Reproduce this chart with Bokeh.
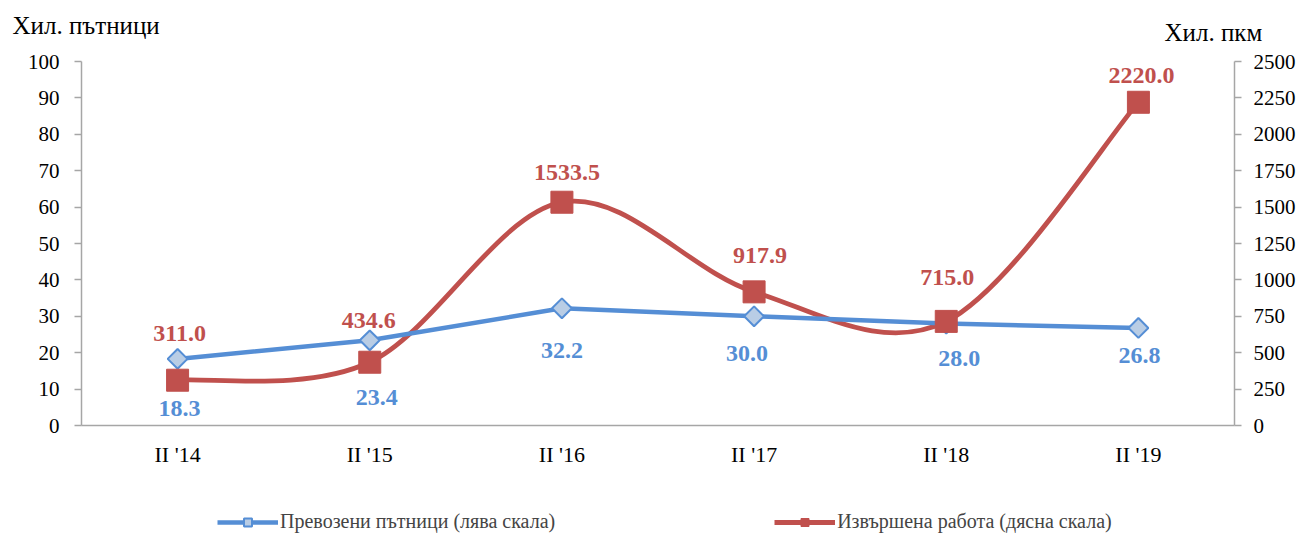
import numpy as np
from bokeh.plotting import figure
from bokeh.models import Range1d, LinearAxis, FixedTicker, Legend, LegendItem, Label
from bokeh.core.properties import value
from bokeh.embed import file_html
from bokeh.resources import INLINE

# ---------------- data ----------------
categories = ["II '14", "II '15", "II '16", "II '17", "II '18", "II '19"]
passengers = [18.3, 23.4, 32.2, 30.0, 28.0, 26.8]          # left scale
work = [311.0, 434.6, 1533.5, 917.9, 715.0, 2220.0]         # right scale
left_ticks = [0, 10, 20, 30, 40, 50, 60, 70, 80, 90, 100]
right_ticks = [0, 250, 500, 750, 1000, 1250, 1500, 1750, 2000, 2250, 2500]
left_title = "Хил. пътници"
right_title = "Хил. пкм"
passengers_name = "Превозени пътници (лява скала)"
work_name = "Извършена работа (дясна скала)"

# ---------------- styles / layout ----------------
W, H = 1312, 533
AX_L, AX_R, AX_TOP, AX_BOT = 81, 1234, 61, 425     # pixel box of the axes
BLUE = "#558ED5"
BLUE_FILL = "#B9CDE5"
RED = "#C0504D"
AXIS = "#A6A6A6"
FONT = "Liberation Serif"
blue_label_dx = [2, 7, 0, -7, 13, 1]
blue_label_dy = [50, 57, 42, 37, 35, 28]
red_label_dx = [2, -1, 5, 6, 1, 3]
red_label_dy = [-47, -42, -30, -36, -44, -27]

n = len(categories)
x = np.arange(n) + 0.5

# ranges calibrated so the frame covers the whole canvas and the axes sit in the box
pxx = (AX_R - AX_L) / n
xr = Range1d(-AX_L / pxx, n + (W - AX_R) / pxx)
lmax = left_ticks[-1]
rmax = right_ticks[-1]
pxy = (AX_BOT - AX_TOP) / lmax
yl = Range1d(-(H - AX_BOT) / pxy, lmax + AX_TOP / pxy)
k = rmax / lmax
yr = Range1d(yl.start * k, yl.end * k)

p = figure(width=W, height=H, x_range=xr, y_range=yl,
           output_backend="svg", toolbar_location=None,
           min_border=0, min_border_left=0, min_border_right=0,
           min_border_top=0, min_border_bottom=0)
p.extra_y_ranges = {"right": yr}
p.xgrid.visible = False
p.ygrid.visible = False
p.outline_line_color = None
p.background_fill_color = "white"
p.border_fill_color = "white"

# x axis
xa = p.xaxis[0]
xa.fixed_location = 0
xa.bounds = (0, n)
xa.ticker = FixedTicker(ticks=list(x))
xa.major_label_overrides = {float(xi): c for xi, c in zip(x, categories)}
xa.major_tick_out = 0
xa.major_tick_in = 0
xa.minor_tick_out = 0
xa.minor_tick_in = 0
xa.axis_line_color = AXIS
xa.axis_line_width = 1.5
xa.major_label_standoff = 16
xa.major_label_text_font = FONT
xa.major_label_text_font_size = "22px"
xa.major_label_text_color = "#000000"

def style_y(ax):
    ax.major_tick_out = 7
    ax.major_tick_in = 0
    ax.minor_tick_out = 0
    ax.minor_tick_in = 0
    ax.axis_line_color = AXIS
    ax.axis_line_width = 1.5
    ax.major_tick_line_color = AXIS
    ax.major_tick_line_width = 1.5
    ax.major_label_text_font = FONT
    ax.major_label_text_font_size = "21px"
    ax.major_label_text_color = "#000000"

ya = p.yaxis[0]
ya.fixed_location = 0
ya.bounds = (0, lmax)
ya.ticker = FixedTicker(ticks=left_ticks)
style_y(ya)
ya.major_label_standoff = 15

ra = LinearAxis(y_range_name="right", ticker=FixedTicker(ticks=right_ticks),
                fixed_location=n, bounds=(0, rmax))
style_y(ra)
ra.major_label_standoff = 12
p.add_layout(ra, "right")

# smoothed red curve (Excel-like Catmull-Rom bezier from the data points)
w = np.array(work)
xp = np.concatenate([[x[0]], x, [x[-1]]])
wp = np.concatenate([[w[0]], w, [w[-1]]])
x0, y0 = x[:-1], w[:-1]
x1, y1 = x[1:], w[1:]
cx0 = x0 + (xp[2:n + 1] - xp[0:n - 1]) / 6.0
cy0 = y0 + (wp[2:n + 1] - wp[0:n - 1]) / 6.0
cx1 = x1 - (xp[3:n + 2] - xp[1:n]) / 6.0
cy1 = y1 - (wp[3:n + 2] - wp[1:n]) / 6.0
red_curve = p.bezier(x0=x0, y0=y0, x1=x1, y1=y1, cx0=cx0, cy0=cy0, cx1=cx1, cy1=cy1,
                     line_color=RED, line_width=4.8, y_range_name="right")

# blue line
blue_line = p.line(x, passengers, line_color=BLUE, line_width=4.5)
blue_pts = p.scatter(x, passengers, marker="square", angle=np.pi / 4, size=14,
                     fill_color=BLUE_FILL, line_color=BLUE, line_width=2)
red_pts = p.scatter(x, work, marker="square", size=22, fill_color=RED,
                    line_color=RED, y_range_name="right")

# data labels
p.text(x, passengers, text=[f"{v:.1f}" for v in passengers],
       x_offset=blue_label_dx, y_offset=blue_label_dy,
       text_font=value(FONT), text_font_style="bold", text_font_size="24px",
       text_color=BLUE, text_align="center", text_baseline="middle")
p.text(x, work, text=[f"{v:.1f}" for v in work],
       x_offset=red_label_dx, y_offset=red_label_dy, y_range_name="right",
       text_font=value(FONT), text_font_style="bold", text_font_size="24px",
       text_color=RED, text_align="center", text_baseline="middle")

# axis titles (frame == canvas, so screen units are canvas pixels from bottom-left)
p.add_layout(Label(x=12, y=H - 25, x_units="screen", y_units="screen", text=left_title,
                   text_font=FONT, text_font_size="25px", text_color="#000000",
                   text_align="left", text_baseline="middle"))
p.add_layout(Label(x=1164, y=H - 32, x_units="screen", y_units="screen", text=right_title,
                   text_font=FONT, text_font_size="25px", text_color="#000000",
                   text_align="left", text_baseline="middle"))

# legend
legend = Legend(items=[LegendItem(label=passengers_name, renderers=[blue_line, blue_pts]),
                       LegendItem(label=work_name, renderers=[red_curve, red_pts])],
                orientation="horizontal", location=(217, 0), spacing=219,
                glyph_width=61, glyph_height=20, label_standoff=2,
                label_text_font=FONT, label_text_font_size="20px",
                label_height=20, padding=0, margin=0, border_line_color=None,
                background_fill_alpha=0)
p.add_layout(legend)

open("out.html", "w").write(file_html(p, INLINE))
